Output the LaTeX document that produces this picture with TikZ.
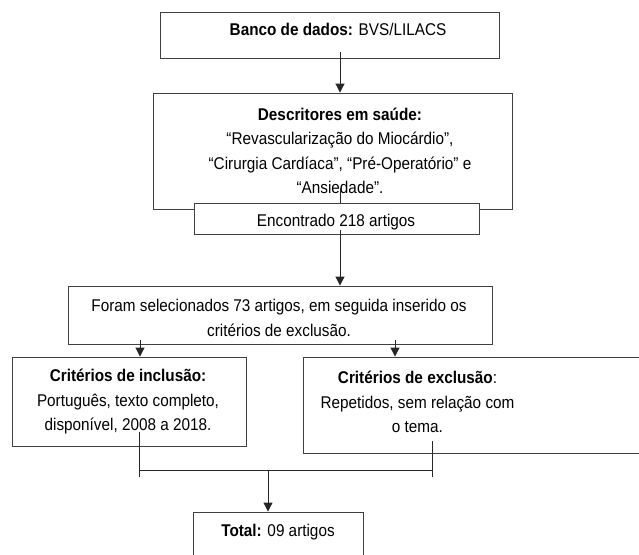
\documentclass[tikz,border=0pt]{standalone}
\usepackage{fontspec}
\setmainfont[FakeStretch=0.9]{Liberation Sans}
\usetikzlibrary{arrows.meta}
\begin{document}
\begin{tikzpicture}[x=1pt,y=-1pt,
  box/.style={draw=black!75,line width=0.9pt,fill=white,inner sep=0pt,rectangle},
  txt/.style={inner sep=0pt,align=center,font=\fontsize{17}{24.5}\selectfont},
  conn/.style={draw=black!85,line width=1pt},
  arr/.style={conn,-{Triangle[length=9pt,width=9pt]}}]
\useasboundingbox (0,0) rectangle (639,554);
\clip (0,0) rectangle (639,554);
% boxes
\node[box,minimum width=339pt,minimum height=46pt] (b1) at (329.5,35) {};
\node[box,minimum width=359pt,minimum height=116pt] (b2) at (332.5,151) {};
\coordinate (s2) at (340,188);
\node[box,minimum width=285pt,minimum height=31pt] (b3) at (336.5,218.5) {};
\node[box,minimum width=424pt,minimum height=58pt] (b4) at (280,315) {};
\node[box,minimum width=234pt,minimum height=89pt] (b5) at (129,401.5) {};
\node[box,minimum width=357pt,minimum height=96pt] (b6) at (481.5,405) {};
\node[box,minimum width=170pt,minimum height=68pt] (b7) at (278,546) {};
% texts
\node[txt] (t1) at (338,29) {\textbf{Banco de dados:} BVS/LILACS};
\node[txt] (t2) at (340,151) {\textbf{Descritores em saúde:}\\“Revascularização do Miocárdio”,\\“Cirurgia Cardíaca”, “Pré-Operatório” e\\“Ansiedade”.};
\node[txt] (t3) at (336,222) {Encontrado 218 artigos};
\node[txt] (t4) at (279,318) {Foram selecionados 73 artigos, em seguida inserido os\\critérios de exclusão.};
\node[txt] (t5) at (128,402) {\textbf{Critérios de inclusão:}\\Português, texto completo,\\disponível, 2008 a 2018.};
\node[txt] (t6) at (417.5,402) {\textbf{Critérios de exclusão}:\\Repetidos, sem relação com\\o tema.};
\node[txt] (t7) at (278,532) {\textbf{Total:} 09 artigos};
% connectors
\coordinate (a1) at (340,52);
\draw[arr] (a1) -- (a1 |- b2.north);
\draw[conn] (s2) -- (s2 |- b3.north);
\coordinate (a2) at (340,230);
\draw[arr] (a2) -- (a2 |- b4.north);
\coordinate (a3) at (140,340);
\draw[arr] (a3) -- (a3 |- b5.north);
\coordinate (a4) at (395,340);
\draw[arr] (a4) -- (a4 |- b6.north);
\coordinate (l1) at (139,432);
\coordinate (l2) at (139,477);
\coordinate (r1) at (432,441);
\coordinate (r2) at (432,477);
\coordinate (h1) at (139,470);
\coordinate (h2) at (432,470);
\coordinate (m) at (268,470);
\draw[conn,line width=0.6pt] (l1) -- (l2);
\draw[conn,line width=0.6pt] (r1) -- (r2);
\draw[conn,line width=0.6pt] (h1) -- (h2);
\draw[arr] (m) -- (m |- b7.north);
\end{tikzpicture}
\end{document}
